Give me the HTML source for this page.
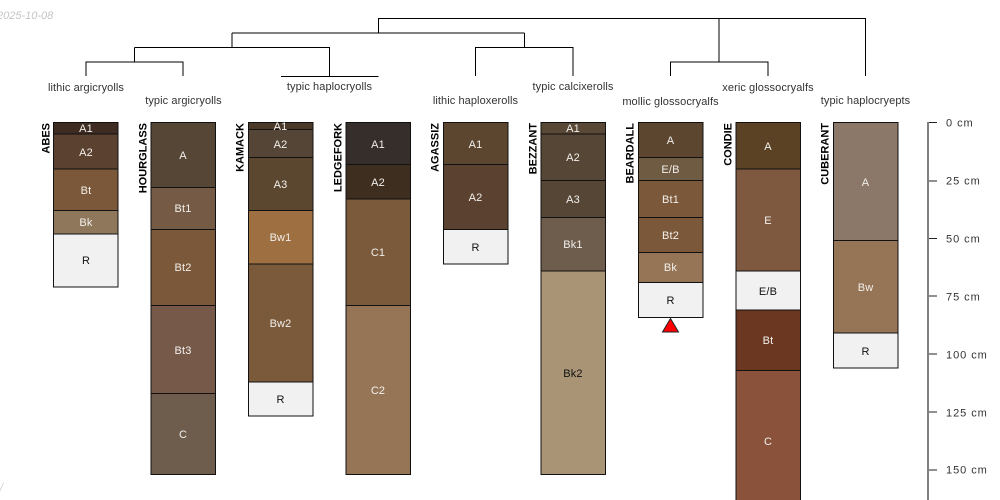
<!DOCTYPE html>
<html>
<head>
<meta charset="utf-8">
<style>
html,body{margin:0;padding:0;background:#fff;width:1000px;height:500px;overflow:hidden}
svg{display:block}
text{font-family:"Liberation Sans",sans-serif}
.h{font-size:11px;letter-spacing:.15px;text-anchor:middle}
.w{fill:#f2f0ec}
.k{fill:#111}
.n{font-size:11px;font-weight:bold;text-anchor:end;fill:#000}
.g{font-size:11px;letter-spacing:.08px;text-anchor:middle;fill:#333}
.d{font-size:11px;letter-spacing:.95px;fill:#333}
</style>
</head>
<body>
<svg width="1000" height="500" viewBox="0 0 1000 500" xmlns="http://www.w3.org/2000/svg">
<rect width="1000" height="500" fill="#fff"/>
<text x="-3" y="19" font-size="11" font-style="italic" fill="#c4c4c4">2025-10-08</text>
<text x="0" y="491" font-size="11" font-style="italic" fill="#d0d0d0">/</text>

<g fill="none" stroke="#000" stroke-width="1">
<path d="M378.500 33V18.500H865.500V76"/>
<path d="M232 33H524.500"/>
<path d="M232 33V47.500"/>
<path d="M134.500 47.500H329.500V76"/>
<path d="M134.500 47.500V62"/>
<path d="M281 76.500H378.500"/>
<path d="M86 76V62H183V76"/>
<path d="M524.500 33V47.500H475.500V76"/>
<path d="M524.500 47.500H573V76"/>
<path d="M719 18.500V62"/>
<path d="M670.500 76V62H768V76"/>
</g>

<g>
<text class="g" x="86" y="91">lithic argicryolls</text>
<text class="g" x="183.500" y="104">typic argicryolls</text>
<text class="g" x="329.500" y="90">typic haplocryolls</text>
<text class="g" x="475.500" y="104">lithic haploxerolls</text>
<text class="g" x="573" y="90">typic calcixerolls</text>
<text class="g" x="670.500" y="105">mollic glossocryalfs</text>
<text class="g" x="768" y="91">xeric glossocryalfs</text>
<text class="g" x="865.500" y="104">typic haplocryepts</text>
</g>

<g stroke="#111" stroke-width="1">
<!-- ABES -->
<rect x="53.500" y="122.500" width="64.500" height="11.500" fill="#3e2c22"/>
<rect x="53.500" y="134" width="64.500" height="35" fill="#5b412f"/>
<rect x="53.500" y="169" width="64.500" height="41.500" fill="#7b5839"/>
<rect x="53.500" y="210.500" width="64.500" height="23.500" fill="#8f775b"/>
<rect x="53.500" y="234" width="64.500" height="53" fill="#f1f1f1"/>
<!-- HOURGLASS -->
<rect x="151" y="122.500" width="64.500" height="65" fill="#564636"/>
<rect x="151" y="187.500" width="64.500" height="42" fill="#755b45"/>
<rect x="151" y="229.500" width="64.500" height="76" fill="#7b5839"/>
<rect x="151" y="305.500" width="64.500" height="88" fill="#77594a"/>
<rect x="151" y="393.500" width="64.500" height="81" fill="#6e5c4c"/>
<!-- KAMACK -->
<rect x="248.500" y="122.500" width="64.500" height="7" fill="#4a3828"/>
<rect x="248.500" y="129.500" width="64.500" height="28" fill="#554536"/>
<rect x="248.500" y="157.500" width="64.500" height="53" fill="#5b4630"/>
<rect x="248.500" y="210.500" width="64.500" height="53.500" fill="#9e6f41"/>
<rect x="248.500" y="264" width="64.500" height="118" fill="#7b5a3b"/>
<rect x="248.500" y="382" width="64.500" height="34" fill="#f1f1f1"/>
<!-- LEDGEFORK -->
<rect x="346" y="122.500" width="64.500" height="42" fill="#362e2a"/>
<rect x="346" y="164.500" width="64.500" height="34.500" fill="#3e2e20"/>
<rect x="346" y="199" width="64.500" height="106.500" fill="#7b5a3b"/>
<rect x="346" y="305.500" width="64.500" height="169" fill="#967456"/>
<!-- AGASSIZ -->
<rect x="443.500" y="122.500" width="64.500" height="42" fill="#5c4630"/>
<rect x="443.500" y="164.500" width="64.500" height="65" fill="#5b412f"/>
<rect x="443.500" y="229.500" width="64.500" height="34.500" fill="#f1f1f1"/>
<!-- BEZZANT -->
<rect x="541" y="122.500" width="64.500" height="11.500" fill="#5a4836"/>
<rect x="541" y="134" width="64.500" height="46.500" fill="#564636"/>
<rect x="541" y="180.500" width="64.500" height="37" fill="#564636"/>
<rect x="541" y="217.500" width="64.500" height="53.500" fill="#6e5c4c"/>
<rect x="541" y="271" width="64.500" height="203.500" fill="#a99475"/>
<!-- BEARDALL -->
<rect x="638.500" y="122.500" width="64.500" height="35" fill="#5c4630"/>
<rect x="638.500" y="157.500" width="64.500" height="23" fill="#6f5a42"/>
<rect x="638.500" y="180.500" width="64.500" height="37" fill="#7b5839"/>
<rect x="638.500" y="217.500" width="64.500" height="35" fill="#7b5839"/>
<rect x="638.500" y="252.500" width="64.500" height="30" fill="#967456"/>
<rect x="638.500" y="282.500" width="64.500" height="35" fill="#f1f1f1"/>
<!-- CONDIE -->
<rect x="736" y="122.500" width="64.500" height="46.500" fill="#5c4224"/>
<rect x="736" y="169" width="64.500" height="102" fill="#7f5840"/>
<rect x="736" y="271" width="64.500" height="39" fill="#f1f1f1"/>
<rect x="736" y="310" width="64.500" height="60.500" fill="#6b3720"/>
<rect x="736" y="370.500" width="64.500" height="140" fill="#8a523a"/>
<!-- CUBERANT -->
<rect x="833.500" y="122.500" width="64.500" height="118" fill="#8b7868"/>
<rect x="833.500" y="240.500" width="64.500" height="92.500" fill="#967456"/>
<rect x="833.500" y="333" width="64.500" height="35" fill="#f1f1f1"/>
</g>

<g>
<text class="h w" x="86" y="132">A1</text>
<text class="h w" x="86" y="156">A2</text>
<text class="h w" x="86" y="194">Bt</text>
<text class="h w" x="86" y="226">Bk</text>
<text class="h k" x="86" y="264">R</text>

<text class="h w" x="183" y="159">A</text>
<text class="h w" x="183" y="212">Bt1</text>
<text class="h w" x="183" y="271">Bt2</text>
<text class="h w" x="183" y="354">Bt3</text>
<text class="h w" x="183" y="438">C</text>

<text class="h w" x="280.500" y="130">A1</text>
<text class="h w" x="280.500" y="148">A2</text>
<text class="h w" x="280.500" y="188">A3</text>
<text class="h w" x="280.500" y="241">Bw1</text>
<text class="h w" x="280.500" y="327">Bw2</text>
<text class="h k" x="280.500" y="403">R</text>

<text class="h w" x="378" y="148">A1</text>
<text class="h w" x="378" y="186">A2</text>
<text class="h w" x="378" y="256">C1</text>
<text class="h w" x="378" y="394">C2</text>

<text class="h w" x="475.500" y="148">A1</text>
<text class="h w" x="475.500" y="201">A2</text>
<text class="h k" x="475.500" y="251">R</text>

<text class="h w" x="573" y="132">A1</text>
<text class="h w" x="573" y="161">A2</text>
<text class="h w" x="573" y="203">A3</text>
<text class="h w" x="573" y="248">Bk1</text>
<text class="h k" x="573" y="377">Bk2</text>

<text class="h w" x="670.500" y="144">A</text>
<text class="h w" x="670.500" y="173">E/B</text>
<text class="h w" x="670.500" y="203">Bt1</text>
<text class="h w" x="670.500" y="239">Bt2</text>
<text class="h w" x="670.500" y="271">Bk</text>
<text class="h k" x="670.500" y="304">R</text>

<text class="h w" x="768" y="150">A</text>
<text class="h w" x="768" y="224">E</text>
<text class="h k" x="768" y="295">E/B</text>
<text class="h w" x="768" y="344">Bt</text>
<text class="h w" x="768" y="445">C</text>

<text class="h w" x="865.500" y="186">A</text>
<text class="h w" x="865.500" y="291">Bw</text>
<text class="h k" x="865.500" y="355">R</text>
</g>

<g>
<text class="n" transform="translate(49.500 123) rotate(-90)">ABES</text>
<text class="n" transform="translate(146.500 123) rotate(-90)">HOURGLASS</text>
<text class="n" transform="translate(243.500 123) rotate(-90)">KAMACK</text>
<text class="n" transform="translate(341.500 123) rotate(-90)">LEDGEFORK</text>
<text class="n" transform="translate(438.500 123) rotate(-90)">AGASSIZ</text>
<text class="n" transform="translate(536.500 123) rotate(-90)">BEZZANT</text>
<text class="n" transform="translate(633.500 123) rotate(-90)">BEARDALL</text>
<text class="n" transform="translate(731.500 123) rotate(-90)">CONDIE</text>
<text class="n" transform="translate(828.500 123) rotate(-90)">CUBERANT</text>
</g>

<polygon points="670.500,318.500 678.500,332 662.500,332" fill="#f00" stroke="#222" stroke-width="1"/>

<rect x="927" y="122" width="2" height="378" fill="#808080"/>
<g fill="#222">
<rect x="929" y="122" width="8" height="1"/>
<rect x="929" y="180.500" width="8" height="1"/>
<rect x="929" y="238" width="8" height="1"/>
<rect x="929" y="295.500" width="8" height="1"/>
<rect x="929" y="353.500" width="8" height="1"/>
<rect x="929" y="411.500" width="8" height="1"/>
<rect x="929" y="469.500" width="8" height="1"/>
</g>
<g>
<text class="d" x="946" y="126.500">0 cm</text>
<text class="d" x="946" y="184.500">25 cm</text>
<text class="d" x="946" y="242.500">50 cm</text>
<text class="d" x="946" y="300.500">75 cm</text>
<text class="d" x="946" y="358.500">100 cm</text>
<text class="d" x="946" y="416.500">125 cm</text>
<text class="d" x="946" y="473.500">150 cm</text>
</g>
</svg>
</body>
</html>
